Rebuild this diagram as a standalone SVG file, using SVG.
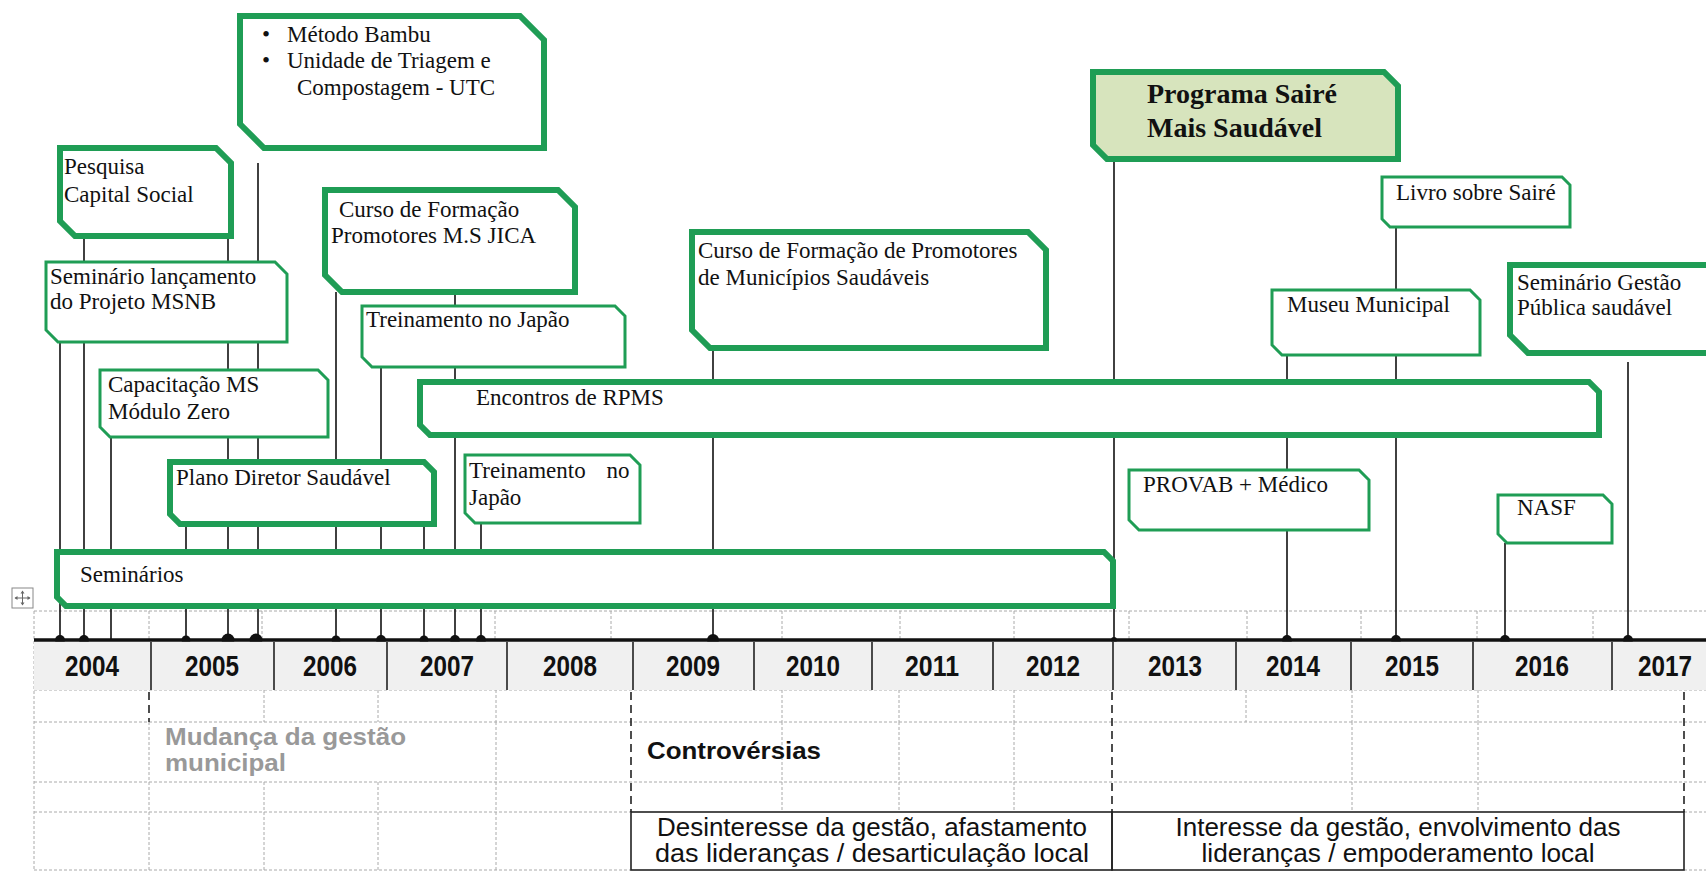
<svg xmlns="http://www.w3.org/2000/svg" width="1706" height="881" viewBox="0 0 1706 881">
<style>
.box{fill:#fff;stroke:#1f9d55;stroke-linejoin:miter}
.thick{stroke-width:6}
.thin{stroke-width:3}
.t{font-family:"Liberation Serif","Times New Roman",serif;font-size:23px;fill:#111}
.tb{font-family:"Liberation Serif","Times New Roman",serif;font-size:28px;font-weight:bold;fill:#111}
.cn{stroke:#111;stroke-width:1.6}
.dot{fill:#111}
.g{stroke:#aaa;stroke-width:1;stroke-dasharray:3 2;fill:none}
.bd{stroke:#222;stroke-width:1.6;stroke-dasharray:8 5;fill:none}
.yd{stroke:#222;stroke-width:1.6}
.yr{font-family:"Liberation Sans",Arial,sans-serif;font-weight:bold;font-size:29px;text-anchor:middle;fill:#111}
.lo{font-family:"Liberation Sans",Arial,sans-serif;font-size:25px;fill:#111}
.lb{font-family:"Liberation Sans",Arial,sans-serif;font-size:24px;font-weight:bold}
</style>
<rect width="1706" height="881" fill="#fff"/>

<g id="grid">
  <path class="g" d="M34 611H1706M34 690H1706M34 722H1706M34 782H1706M34 812H631M1684 812H1706M34 870H631M1684 870H1706"/>
  <path class="g" d="M34 611V870"/>
  <path class="g" d="M149 611V640M262 611V640M495 611V640M611 611V640M782 611V640M900 611V640M1014 611V640M1129 611V640M1247 611V640M1361 611V640M1477 611V640M1593 611V640"/>
  <path class="g" d="M264 690V722M378 690V722M496 690V722M782 690V722M899 690V722M1014 690V722M1246 690V722M1352 690V722M1478 690V722"/>
  <path class="g" d="M149 722V870M496 722V870M782 722V812M899 722V812M1014 722V812M1352 722V812M1478 722V812"/>
  <path class="g" d="M264 782V870M378 782V870"/>
  <path class="bd" d="M149 692V722M631 692V812M1112 692V812M1684 692V812"/>
  <rect x="631" y="812" width="481" height="58" fill="none" stroke="#222" stroke-width="1.6"/>
  <rect x="1112" y="812" width="572" height="58" fill="none" stroke="#222" stroke-width="1.6"/>
</g>

<g id="handle">
  <rect x="12" y="588" width="21" height="20" fill="#fff" stroke="#888" stroke-width="1"/>
  <path d="M22.5 591V605M15 598H30" stroke="#666" stroke-width="1"/>
  <path d="M22.5 590.5l-2 3h4zM22.5 605.5l-2-3h4zM14.5 598l3-2v4zM30.5 598l-3-2v4z" fill="#666"/>
</g>

<g id="connectors">
  <line class="cn" x1="60" y1="330" x2="60" y2="640"/>
  <line class="cn" x1="84" y1="236" x2="84" y2="640"/>
  <line class="cn" x1="111" y1="437" x2="111" y2="640"/>
  <line class="cn" x1="186" y1="524" x2="186" y2="640"/>
  <line class="cn" x1="228" y1="236" x2="228" y2="640"/>
  <line class="cn" x1="258" y1="163" x2="258" y2="640"/>
  <line class="cn" x1="336" y1="292" x2="336" y2="640"/>
  <line class="cn" x1="381" y1="367" x2="381" y2="640"/>
  <line class="cn" x1="424" y1="524" x2="424" y2="640"/>
  <line class="cn" x1="455" y1="292" x2="455" y2="640"/>
  <line class="cn" x1="481" y1="523" x2="481" y2="640"/>
  <line class="cn" x1="713" y1="348" x2="713" y2="640"/>
  <line class="cn" x1="1114" y1="159" x2="1114" y2="640"/>
  <line class="cn" x1="1287" y1="355" x2="1287" y2="640"/>
  <line class="cn" x1="1396" y1="227" x2="1396" y2="640"/>
  <line class="cn" x1="1505" y1="543" x2="1505" y2="640"/>
  <line class="cn" x1="1628" y1="362" x2="1628" y2="640"/>
  <circle class="dot" cx="60" cy="640" r="5"/>
  <circle class="dot" cx="84" cy="640" r="5"/>
  <circle class="dot" cx="186" cy="640" r="4.5"/>
  <circle class="dot" cx="228" cy="640" r="6.5"/>
  <circle class="dot" cx="256" cy="640" r="6.5"/>
  <circle class="dot" cx="336" cy="640" r="4.5"/>
  <circle class="dot" cx="381" cy="640" r="5"/>
  <circle class="dot" cx="424" cy="640" r="4.5"/>
  <circle class="dot" cx="455" cy="640" r="5"/>
  <circle class="dot" cx="481" cy="640" r="5"/>
  <circle class="dot" cx="713" cy="640" r="6"/>
  <circle class="dot" cx="1114" cy="640" r="3"/>
  <circle class="dot" cx="1287" cy="640" r="5"/>
  <circle class="dot" cx="1396" cy="640" r="5"/>
  <circle class="dot" cx="1505" cy="640" r="5"/>
  <circle class="dot" cx="1628" cy="640" r="5"/>
</g>

<g id="years">
  <rect x="34" y="641.5" width="1672" height="48.5" fill="#f0f0f0"/>
  <path class="yd" d="M151 642V690M274 642V690M387 642V690M507 642V690M633 642V690M754 642V690M872 642V690M993 642V690M1113 642V690M1236 642V690M1351 642V690M1473 642V690M1612 642V690"/>
  <line x1="34" y1="640" x2="1706" y2="640" stroke="#111" stroke-width="3.5"/>
  <text class="yr" x="92" y="676" textLength="54" lengthAdjust="spacingAndGlyphs">2004</text>
  <text class="yr" x="212" y="676" textLength="54" lengthAdjust="spacingAndGlyphs">2005</text>
  <text class="yr" x="330" y="676" textLength="54" lengthAdjust="spacingAndGlyphs">2006</text>
  <text class="yr" x="447" y="676" textLength="54" lengthAdjust="spacingAndGlyphs">2007</text>
  <text class="yr" x="570" y="676" textLength="54" lengthAdjust="spacingAndGlyphs">2008</text>
  <text class="yr" x="693" y="676" textLength="54" lengthAdjust="spacingAndGlyphs">2009</text>
  <text class="yr" x="813" y="676" textLength="54" lengthAdjust="spacingAndGlyphs">2010</text>
  <text class="yr" x="932" y="676" textLength="54" lengthAdjust="spacingAndGlyphs">2011</text>
  <text class="yr" x="1053" y="676" textLength="54" lengthAdjust="spacingAndGlyphs">2012</text>
  <text class="yr" x="1175" y="676" textLength="54" lengthAdjust="spacingAndGlyphs">2013</text>
  <text class="yr" x="1293" y="676" textLength="54" lengthAdjust="spacingAndGlyphs">2014</text>
  <text class="yr" x="1412" y="676" textLength="54" lengthAdjust="spacingAndGlyphs">2015</text>
  <text class="yr" x="1542" y="676" textLength="54" lengthAdjust="spacingAndGlyphs">2016</text>
  <text class="yr" x="1665" y="676" textLength="54" lengthAdjust="spacingAndGlyphs">2017</text>
</g>

<g id="periods">
  <text class="lb" fill="#999" x="165" y="745" textLength="241" lengthAdjust="spacingAndGlyphs">Mudança da gestão</text>
  <text class="lb" fill="#999" x="165" y="771" textLength="121" lengthAdjust="spacingAndGlyphs">municipal</text>
  <text class="lb" fill="#111" x="647" y="759" textLength="174" lengthAdjust="spacingAndGlyphs">Controvérsias</text>
  <text class="lo" x="872" y="836" text-anchor="middle" textLength="430" lengthAdjust="spacingAndGlyphs">Desinteresse da gestão, afastamento</text>
  <text class="lo" x="872" y="862" text-anchor="middle" textLength="434" lengthAdjust="spacingAndGlyphs">das lideranças / desarticulação local</text>
  <text class="lo" x="1398" y="836" text-anchor="middle" textLength="445" lengthAdjust="spacingAndGlyphs">Interesse da gestão, envolvimento das</text>
  <text class="lo" x="1398" y="862" text-anchor="middle" textLength="393" lengthAdjust="spacingAndGlyphs">lideranças / empoderamento local</text>
</g>

<g id="n-metodo">
  <path class="box thick" d="M240 16H520L544 40V148H264L240 124Z"/>
  <text class="t" x="262" y="42">•</text>
  <text class="t" x="287" y="42">Método Bambu</text>
  <text class="t" x="262" y="68">•</text>
  <text class="t" x="287" y="68">Unidade de Triagem e</text>
  <text class="t" x="297" y="95">Compostagem - UTC</text>
</g>
<g id="n-pesquisa">
  <path class="box thick" d="M60 148H216L231 163V236H75L60 221Z"/>
  <text class="t" x="64" y="174">Pesquisa</text>
  <text class="t" x="64" y="202">Capital Social</text>
</g>
<g id="n-seminario-lancamento">
  <path class="box thin" d="M46 262H275L287 274V342H58L46 330Z"/>
  <text class="t" x="50" y="284">Seminário lançamento</text>
  <text class="t" x="50" y="309">do Projeto MSNB</text>
</g>
<g id="n-curso-jica">
  <path class="box thick" d="M325 190H558L575 207V292H342L325 275Z"/>
  <text class="t" x="339" y="217">Curso de Formação</text>
  <text class="t" x="331" y="243">Promotores M.S JICA</text>
</g>
<g id="n-treinamento-1">
  <path class="box thin" d="M362 306H615L625 316V367H372L362 357Z"/>
  <text class="t" x="366" y="327">Treinamento no Japão</text>
</g>
<g id="n-curso-municipios">
  <path class="box thick" d="M692 232H1028L1046 250V348H710L692 330Z"/>
  <text class="t" x="698" y="258">Curso de Formação de Promotores</text>
  <text class="t" x="698" y="285">de Municípios Saudáveis</text>
</g>
<g id="n-capacitacao">
  <path class="box thin" d="M100 370H318L328 380V437H110L100 427Z"/>
  <text class="t" x="108" y="392">Capacitação MS</text>
  <text class="t" x="108" y="419">Módulo Zero</text>
</g>
<g id="n-encontros">
  <path class="box thick" d="M420 382H1589L1599 392V435H430L420 425Z"/>
  <text class="t" x="476" y="405">Encontros de RPMS</text>
</g>
<g id="n-plano">
  <path class="box thick" d="M170 462H424L434 472V524H180L170 514Z"/>
  <text class="t" x="176" y="485">Plano Diretor Saudável</text>
</g>
<g id="n-treinamento-2">
  <path class="box thin" d="M465 455H630L640 465V523H475L465 513Z"/>
  <text class="t" x="469" y="478" word-spacing="15">Treinamento no</text>
  <text class="t" x="469" y="505">Japão</text>
</g>
<g id="n-seminarios">
  <path class="box thick" d="M57 552H1104L1113 561V606H66L57 597Z"/>
  <text class="t" x="80" y="582">Seminários</text>
</g>
<g id="n-programa">
  <path class="box thick" style="fill:#d7e4bd" d="M1093 72H1384L1398 86V159H1107L1093 145Z"/>
  <text class="tb" x="1147" y="103">Programa Sairé</text>
  <text class="tb" x="1147" y="137">Mais Saudável</text>
</g>
<g id="n-livro">
  <path class="box thin" d="M1382 177H1562L1570 185V227H1390L1382 219Z"/>
  <text class="t" x="1396" y="200">Livro sobre Sairé</text>
</g>
<g id="n-museu">
  <path class="box thin" d="M1272 290H1470L1480 300V355H1282L1272 345Z"/>
  <text class="t" x="1287" y="312">Museu Municipal</text>
</g>
<g id="n-seminario-gestao">
  <path class="box thick" d="M1510 265H1724V353H1528L1510 335Z"/>
  <text class="t" x="1517" y="290">Seminário Gestão</text>
  <text class="t" x="1517" y="315">Pública saudável</text>
</g>
<g id="n-provab">
  <path class="box thin" d="M1129 470H1359L1369 480V530H1139L1129 520Z"/>
  <text class="t" x="1143" y="492">PROVAB + Médico</text>
</g>
<g id="n-nasf">
  <path class="box thin" d="M1498 495H1603L1612 504V543H1507L1498 534Z"/>
  <text class="t" x="1517" y="515">NASF</text>
</g>
</svg>
